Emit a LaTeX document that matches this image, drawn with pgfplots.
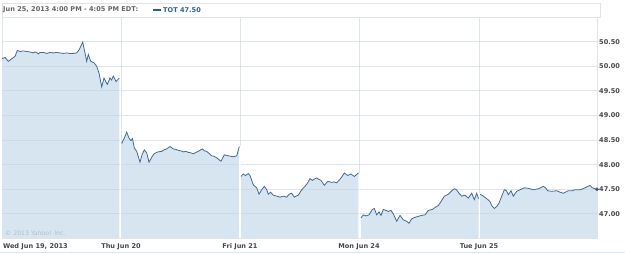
\documentclass[border=0pt]{standalone}
\usepackage{pgfplots}
\usepackage{pgfplotstable}
\pgfplotsset{compat=1.18}
\usepackage{fontspec}
\setmainfont{DejaVu Sans}
\definecolor{linec}{RGB}{62,108,158}
\definecolor{fillc}{RGB}{214,229,240}
\definecolor{gridc}{RGB}{200,212,224}
\definecolor{vgrid}{RGB}{221,228,234}
\definecolor{labc}{RGB}{70,70,70}
\definecolor{headc}{RGB}{100,100,100}
\definecolor{bluec}{RGB}{45,95,148}
\definecolor{copyc}{RGB}{178,192,204}

\pgfplotstableread{
x y
2 50.15
5 50.18
8.3 50.10
11.7 50.15
15 50.20
17.3 50.32
20 50.30
23 50.31
26.7 50.30
30 50.29
33.3 50.27
35 50.29
36.7 50.28
38.3 50.25
40 50.28
43.3 50.28
46.7 50.26
50 50.28
53.3 50.27
56.7 50.28
60 50.27
63.3 50.26
66.7 50.27
70 50.26
73.3 50.26
76.7 50.27
79.3 50.34
82.7 50.49
85 50.27
86.7 50.10
88.3 50.24
90.7 50.10
94 50.07
96.7 50.00
99 49.86
101.7 49.58
104 49.76
105.5 49.70
107.3 49.63
110 49.76
111.5 49.72
113.3 49.80
116 49.69
119.3 49.76
}\dayA
\pgfplotstableread{
x y
121.7 48.43
124.3 48.54
126.7 48.66
129 48.54
131 48.49
132.5 48.53
134.3 48.34
136.7 48.27
140 48.05
142 48.20
144.3 48.30
146.7 48.24
149 48.05
152.3 48.17
154 48.22
155.7 48.24
158 48.26
161.7 48.27
164 48.30
166.7 48.32
170 48.37
173.3 48.32
176 48.31
178.3 48.29
181 48.28
183.3 48.26
186 48.27
188.3 48.25
191 48.24
193.3 48.22
196 48.25
198.3 48.27
202.3 48.32
204.5 48.28
206.7 48.27
209 48.23
211.7 48.18
214 48.17
216.7 48.14
219 48.10
221 48.07
224.3 48.20
226.5 48.19
228.3 48.18
231 48.17
233.3 48.16
236.7 48.18
239.3 48.37
}\dayB
\pgfplotstableread{
x y
241 47.76
243.3 47.81
245.5 47.78
248.3 47.82
250 47.78
253.3 47.59
256.7 47.53
259 47.40
261.7 47.49
264.3 47.56
266.7 47.49
268.3 47.40
270.5 47.44
273.3 47.38
276.7 47.36
280 47.34
283.3 47.36
286.7 47.34
289 47.40
291.7 47.42
294.3 47.34
296 47.36
298.3 47.38
301.7 47.49
305 47.56
307.7 47.63
310 47.72
312.3 47.68
314.5 47.71
316.7 47.73
319 47.70
321 47.68
324.3 47.58
327.7 47.66
331.7 47.64
334 47.65
336.7 47.63
341 47.73
344.3 47.83
347.7 47.78
351 47.81
354.3 47.76
358.3 47.83
}\dayC
\pgfplotstableread{
x y
361 46.92
363.3 46.98
366 46.96
369 46.98
372.3 47.09
374.3 47.11
376.7 46.98
379 47.04
381 46.97
383.3 47.09
386 47.07
388.3 47.05
391 47.07
393.3 47.00
396.7 46.85
400 46.97
403.3 46.88
406.7 46.85
409 46.81
411.7 46.90
415 46.93
418.3 46.95
421.7 46.97
425 46.98
428.3 47.07
432.3 47.09
435 47.13
438.3 47.17
441 47.25
444.3 47.36
448.3 47.40
451.7 47.47
454.3 47.51
456.5 47.49
459 47.42
461.7 47.36
465 47.38
468.3 47.32
471.7 47.42
474.3 47.29
476.7 47.42
478.5 47.31
}\dayD
\pgfplotstableread{
x y
480 47.40
483.3 47.36
486.7 47.31
490 47.25
491.7 47.17
494.3 47.11
496.7 47.15
499 47.22
501.7 47.36
504.3 47.49
506.5 47.47
508.3 47.39
511 47.47
513.3 47.36
516.7 47.46
520 47.49
524.3 47.53
528.3 47.52
533.3 47.49
538.3 47.51
543.3 47.56
545.5 47.53
547.7 47.47
551.7 47.46
556.7 47.47
560 47.44
563.3 47.42
568.3 47.47
572.3 47.47
575 47.49
580 47.49
585 47.53
590 47.58
592.3 47.53
595 47.51
597 47.50
}\dayE

\begin{document}
\begin{tikzpicture}[x=1bp,y=1bp,font=\fontsize{6.6}{8}\selectfont\bfseries]
\useasboundingbox (0,0) rectangle (625,253);
% header
\draw[vgrid,line width=0.8bp] (2,236) rectangle (600,250);
\node[anchor=west,inner sep=0pt,text=headc] at (3,243) {Jun 25, 2013 4:00 PM - 4:05 PM EDT:};
\fill[bluec] (153,241.6) rectangle (161,243.8);
\node[anchor=west,inner sep=0pt,text=bluec] at (163,243) {TOT 47.50};
\draw[vgrid,line width=0.8bp] (0,1) -- (625,1);
\begin{axis}[
  at={(2bp,15bp)}, anchor=south west,
  scale only axis, width=595bp, height=221bp,
  xmin=2, xmax=597, ymin=46.51, ymax=51.0,
  axis line style={draw=vgrid, line width=0.8bp},
  xtick={2,121,240,359,479},
  xticklabels={\makebox[0pt][l]{\hspace{1bp}Wed Jun 19, 2013},Thu Jun 20,Fri Jun 21,Mon Jun 24,Tue Jun 25},
  x tick style={draw=none},
  xticklabel style={text=labc, inner sep=0pt, yshift=-2bp},
  xmajorgrids, grid style={draw=vgrid, line width=0.8bp},
  ytick={47,47.5,48,48.5,49,49.5,50,50.5},
  ytick pos=right, yticklabel pos=right,
  tick align=outside, major tick length=3bp,
  y tick style={draw=vgrid, line width=0.8bp},
  yticklabel style={text=labc, inner sep=0pt, anchor=west, xshift=-1bp},
  yticklabel={\pgfmathprintnumber[fixed,fixed zerofill,precision=2]{\tick}},
  /pgf/number format/assume math mode=true,
  clip=true,
]
\addplot[fill=fillc, draw=none] table {\dayA} \closedcycle;
\addplot[fill=fillc, draw=none] table {\dayB} \closedcycle;
\addplot[fill=fillc, draw=none] table {\dayC} \closedcycle;
\addplot[fill=fillc, draw=none] table {\dayD} \closedcycle;
\addplot[fill=fillc, draw=none] table {\dayE} \closedcycle;
\pgfplotsinvokeforeach{47,47.5,48,48.5,49,49.5,50,50.5}{
  \draw[gridc, opacity=0.6, line width=0.8bp] (axis cs:2,#1) -- (axis cs:597,#1);
}
\draw[white, line width=1.2bp] (axis cs:120.5,46.51) -- (axis cs:120.5,49.76);
\draw[white, line width=1.2bp] (axis cs:240,46.51) -- (axis cs:240,48.37);
\draw[white, line width=1.2bp] (axis cs:359.5,46.51) -- (axis cs:359.5,47.83);
\draw[white, line width=1.2bp] (axis cs:479.2,46.51) -- (axis cs:479.2,47.42);
\addplot[linec, line width=0.8bp] table {\dayA};
\addplot[linec, line width=0.8bp] table {\dayB};
\addplot[linec, line width=0.8bp] table {\dayC};
\addplot[linec, line width=0.8bp] table {\dayD};
\addplot[linec, line width=0.8bp] table {\dayE};
\addplot[only marks, mark=*, mark size=1.6bp, color=bluec] coordinates {(597,47.50)};
\node[anchor=south west, inner sep=0pt, text=copyc, font=\fontsize{6.2}{7}\selectfont\mdseries] at (axis cs:5,46.56) {© 2013 Yahoo! Inc.};
\end{axis}
\end{tikzpicture}
\end{document}
